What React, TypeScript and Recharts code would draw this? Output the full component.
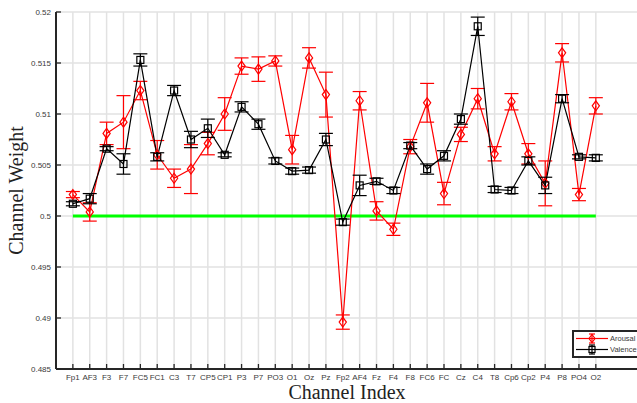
import React from 'react'
import {
  CartesianGrid,
  ComposedChart,
  ErrorBar,
  Legend,
  Line,
  ReferenceLine,
  XAxis,
  YAxis,
} from 'recharts'

// 32 EEG channels in electrode order
const channels = [
  'Fp1', 'AF3', 'F3', 'F7', 'FC5', 'FC1', 'C3', 'T7', 'CP5', 'CP1', 'P3', 'P7', 'PO3', 'O1', 'Oz', 'Pz',
  'Fp2', 'AF4', 'Fz', 'F4', 'F8', 'FC6', 'FC', 'Cz', 'C4', 'T8', 'Cp6', 'Cp2', 'P4', 'P8', 'PO4', 'O2',
]

const arousalMean = [
  0.5021, 0.5004, 0.5081, 0.5092, 0.5123, 0.5060, 0.5037, 0.5046, 0.5071, 0.5100, 0.5147, 0.5144, 0.5152, 0.5065, 0.5155, 0.5119,
  0.4896, 0.5113, 0.5005, 0.4987, 0.5068, 0.5111, 0.5022, 0.5080, 0.5115, 0.5061, 0.5112, 0.5061, 0.5032, 0.5160, 0.5021, 0.5108,
]
const arousalErr = [
  0.0003, 0.0009, 0.0011, 0.0026, 0.0009, 0.0014, 0.0009, 0.0024, 0.0011, 0.0016, 0.0008, 0.0012, 0.0005, 0.0014, 0.0010, 0.0022,
  0.0007, 0.0009, 0.0009, 0.0006, 0.0007, 0.0019, 0.0011, 0.0007, 0.0010, 0.0007, 0.0008, 0.0010, 0.0022, 0.0009, 0.0006, 0.0008,
]

const valenceMean = [
  0.5012, 0.5017, 0.5066, 0.5051, 0.5153, 0.5058, 0.5123, 0.5075, 0.5086, 0.5060, 0.5107, 0.5090, 0.5054, 0.5044, 0.5045, 0.5075,
  0.4994, 0.5030, 0.5034, 0.5025, 0.5069, 0.5046, 0.5059, 0.5095, 0.5186, 0.5026, 0.5025, 0.5054, 0.5030, 0.5115, 0.5058, 0.5057,
]
const valenceErr = [
  0.0002, 0.0005, 0.0002, 0.0010, 0.0006, 0.0004, 0.0005, 0.0008, 0.0009, 0.0002, 0.0005, 0.0005, 0.0003, 0.0003, 0.0003, 0.0006,
  0.0003, 0.0010, 0.0003, 0.0003, 0.0003, 0.0005, 0.0005, 0.0005, 0.0009, 0.0003, 0.0003, 0.0004, 0.0008, 0.0004, 0.0002, 0.0003,
]

const yTicks = [0.485, 0.49, 0.495, 0.5, 0.505, 0.51, 0.515, 0.52]
const chanceLevel = 0.5

const data = channels.map((name, i) => ({
  idx: i + 1,
  name,
  arousal: arousalMean[i],
  arousalErr: arousalErr[i],
  valence: valenceMean[i],
  valenceErr: valenceErr[i],
}))
const xTicks = data.map((d) => d.idx)

const AXIS = '#262626'
const LABEL = '#3a3a3a'
const TICK_LEN = 5

function BottomTick(props: any) {
  const { x, y, payload } = props
  const axisY = y - 4
  return (
    <g>
      <line x1={x} y1={axisY} x2={x} y2={axisY - TICK_LEN} stroke={AXIS} strokeWidth={1.3} />
      <text x={x} y={axisY + 11} textAnchor="middle" fontSize={8} fill={LABEL} fontFamily="Liberation Sans, Arial, sans-serif">
        {channels[payload.value - 1]}
      </text>
    </g>
  )
}

function TopTick(props: any) {
  const { x, y } = props
  const axisY = y + 4
  return <line x1={x} y1={axisY} x2={x} y2={axisY + TICK_LEN} stroke={AXIS} strokeWidth={1.3} />
}

function LeftTick(props: any) {
  const { x, y, payload } = props
  const axisX = x + 4
  return (
    <g>
      <line x1={axisX} y1={y} x2={axisX + TICK_LEN} y2={y} stroke={AXIS} strokeWidth={1.3} />
      <text x={axisX - 5} y={y + 3} textAnchor="end" fontSize={8} fill={LABEL} fontFamily="Liberation Sans, Arial, sans-serif">
        {String(payload.value)}
      </text>
    </g>
  )
}

function DiamondDot(props: any) {
  const { cx, cy, index } = props
  return (
    <path
      key={`a-${index}`}
      d={`M${cx},${cy - 5} L${cx + 3.6},${cy} L${cx},${cy + 5} L${cx - 3.6},${cy} Z`}
      fill="none"
      stroke="#ff0000"
      strokeWidth={1.2}
    />
  )
}

function SquareDot(props: any) {
  const { cx, cy, index } = props
  return <rect key={`v-${index}`} x={cx - 3.5} y={cy - 3.5} width={7} height={7} fill="none" stroke="#000" strokeWidth={1.2} />
}

// MATLAB-style legend: line sample with error bar and marker
function LegendBox(props: any) {
  const items = (props.payload || []).filter((p: any) => p.value === 'Arousal' || p.value === 'Valence')
  return (
    <div style={{ border: `2px solid ${AXIS}`, background: '#fff', width: 80, padding: '1px 0' }}>
      {items.map((p: any) => (
        <div key={p.value} style={{ display: 'flex', alignItems: 'center', height: 11 }}>
          <svg width={34} height={11}>
            <line x1={2} y1={5.5} x2={34} y2={5.5} stroke={p.color} strokeWidth={1.2} />
            <line x1={18} y1={1} x2={18} y2={10} stroke={p.color} strokeWidth={1.2} />
            <line x1={15} y1={1} x2={21} y2={1} stroke={p.color} strokeWidth={1.2} />
            <line x1={15} y1={10} x2={21} y2={10} stroke={p.color} strokeWidth={1.2} />
            {p.value === 'Arousal' ? (
              <path d="M18,1.5 L21,5.5 L18,9.5 L15,5.5 Z" fill="none" stroke={p.color} strokeWidth={1.2} />
            ) : (
              <rect x={15} y={2.5} width={6} height={6} fill="none" stroke={p.color} strokeWidth={1.2} />
            )}
          </svg>
          <span style={{ fontSize: 7.5, fontFamily: 'Liberation Sans, Arial, sans-serif', color: LABEL, marginLeft: 2 }}>
            {p.value}
          </span>
        </div>
      ))}
    </div>
  )
}

export default function App() {
  return (
    <div style={{ position: 'absolute', left: 0, top: 0, width: 637, height: 403, overflow: 'hidden', background: '#fff' }}>
      <ComposedChart width={650} height={403} data={data} margin={{ top: 12, right: 12, bottom: 4, left: 0 }}>
        <CartesianGrid stroke="#e2e2e2" strokeWidth={1.5} />
        <XAxis
          dataKey="idx"
          type="number"
          domain={[0, 34.5]}
          ticks={xTicks}
          interval={0}
          height={30}
          tickSize={0}
          tickMargin={4}
          tick={<BottomTick />}
          axisLine={{ stroke: AXIS, strokeWidth: 2 }}
          label={{
            value: 'Channel Index',
            position: 'insideBottom',
            offset: 0,
            fontSize: 20,
            fill: '#222',
            fontFamily: 'Liberation Serif, Times New Roman, serif',
          }}
        />
        <XAxis
          xAxisId="top"
          orientation="top"
          dataKey="idx"
          type="number"
          domain={[0, 34.5]}
          ticks={xTicks}
          interval={0}
          tickSize={0}
          tickMargin={4}
          tick={<TopTick />}
          height={0}
          axisLine={{ stroke: AXIS, strokeWidth: 2 }}
        />
        <YAxis
          type="number"
          domain={[0.485, 0.52]}
          ticks={yTicks}
          interval={0}
          width={56}
          tickSize={0}
          tickMargin={4}
          tick={<LeftTick />}
          axisLine={{ stroke: AXIS, strokeWidth: 2 }}
          label={{
            value: 'Channel Weight',
            angle: -90,
            position: 'insideLeft',
            offset: 16,
            style: { textAnchor: 'middle' },
            fontSize: 20,
            fill: '#222',
            fontFamily: 'Liberation Serif, Times New Roman, serif',
          }}
        />
        <ReferenceLine
          segment={[
            { x: 1, y: chanceLevel },
            { x: channels.length, y: chanceLevel },
          ]}
          stroke="#00ff00"
          strokeWidth={3}
        />
        <Line
          dataKey="arousal"
          name="Arousal"
          stroke="#ff0000"
          strokeWidth={1.2}
          dot={DiamondDot}
          activeDot={false}
          isAnimationActive={false}
        >
          <ErrorBar dataKey="arousalErr" direction="y" width={7} stroke="#ff0000" strokeWidth={1.2} isAnimationActive={false} />
        </Line>
        <Line
          dataKey="valence"
          name="Valence"
          stroke="#000000"
          strokeWidth={1.2}
          dot={SquareDot}
          activeDot={false}
          isAnimationActive={false}
        >
          <ErrorBar dataKey="valenceErr" direction="y" width={7} stroke="#000000" strokeWidth={1.2} isAnimationActive={false} />
        </Line>
        <Legend
          layout="horizontal"
          verticalAlign="middle"
          align="center"
          content={<LegendBox />}
          wrapperStyle={{ left: 572, top: 330, width: 'auto' }}
        />
      </ComposedChart>
    </div>
  )
}
